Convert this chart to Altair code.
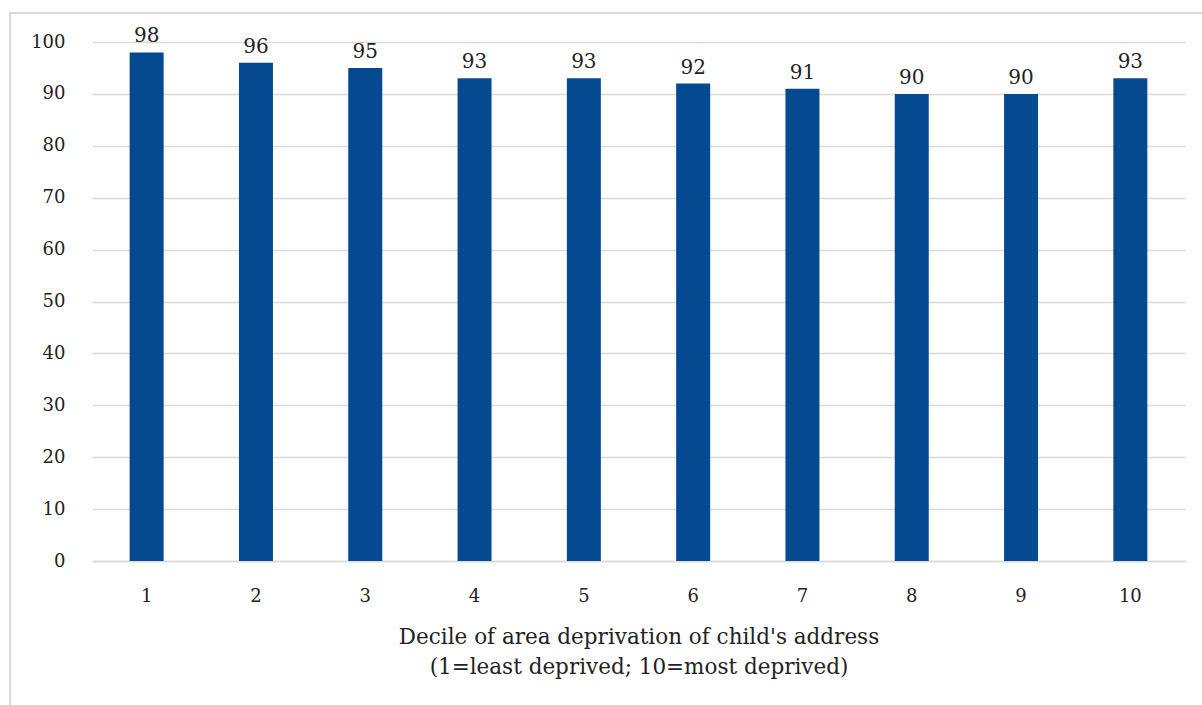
import altair as alt
import pandas as pd

deciles = ["1", "2", "3", "4", "5", "6", "7", "8", "9", "10"]
values = [98, 96, 95, 93, 93, 92, 91, 90, 90, 93]

df = pd.DataFrame({"decile": deciles, "value": values})

FONT = "DejaVu Serif"
x_enc = alt.X("decile:N", sort=deciles,
              scale=alt.Scale(paddingInner=0, paddingOuter=0),
              axis=alt.Axis(title=["Decile of area deprivation of child's address",
                                   "(1=least deprived; 10=most deprived)"],
                            labelAngle=0, ticks=False, domain=True, domainColor="#d9d9d9",
                            domainWidth=1.5, labelFont=FONT, labelFontSize=18,
                            labelColor="#222222", labelPadding=26,
                            titleFont=FONT, titleFontSize=21.5, titleFontWeight="normal",
                            titleColor="#222222", titlePadding=21, titleLineHeight=30))
y_enc = alt.Y("value:Q", scale=alt.Scale(domain=[0, 100], nice=False),
              axis=alt.Axis(title=None, values=list(range(0, 101, 10)), ticks=False,
                            domain=False, grid=True, gridColor="#d9d9d9", gridWidth=1.5,
                            labelFont=FONT, labelFontSize=18, labelColor="#222222",
                            labelPadding=27))

frame = alt.Chart(df).mark_rect(fill=None, stroke="#d9d9d9", strokeWidth=2).encode(
    x=alt.value(-82), x2=alt.value(1300), y=alt.value(-29), y2=alt.value(800))

bars = alt.Chart(df).mark_bar(size=34, color="#054a91").encode(x=x_enc, y=y_enc)

labels = alt.Chart(df).mark_text(baseline="bottom", dy=-6, font=FONT, fontSize=20,
                                 color="#222222").encode(
    x=alt.X("decile:N", sort=deciles), y="value:Q", text="value:Q")

chart = alt.layer(frame, bars, labels).properties(
    width=1093, height=519,
    autosize=alt.AutoSizeParams(type="none"),
    padding={"left": 92, "top": 42, "right": 17, "bottom": 144},
).configure_view(stroke=None)

chart.save("out.html", embed_options={"renderer": "svg", "actions": False})
